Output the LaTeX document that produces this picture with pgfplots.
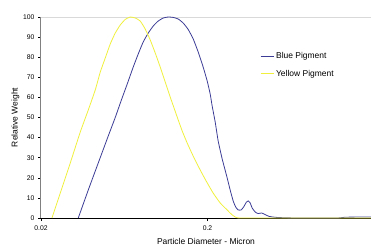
\documentclass[border=0pt]{standalone}
\usepackage{pgfplots}
\pgfplotsset{compat=1.18}
\usepackage{fontspec}
\setmainfont{Liberation Sans}
\usetikzlibrary{calc}
\definecolor{bluep}{RGB}{60,60,150}
\definecolor{yellowp}{RGB}{240,240,60}
\begin{document}
\begin{tikzpicture}[x=1bp,y=1bp]
\begin{axis}[
  name=ax,
  scale only axis,
  width=330bp, height=201bp,
  xmode=log,
  xmin=0.02, xmax=1.92,
  ymin=0, ymax=100,
  axis x line=bottom, axis y line=left,
  x axis line style={-, black, line width=0.8pt},
  y axis line style={-, gray, line width=1pt},
  xtick={0.02,0.2,2}, xticklabels={0.02,0.2,2},
  xminorticks=false,
  ytick={0,10,...,100},
  tick align=outside,
  major tick length=3bp,
  tick style={black, line width=0.5pt},
  ticklabel style={font=\fontsize{6.8}{7}\selectfont},
  /pgf/number format/assume math mode=true,
  xticklabel style={yshift=-1bp},
  xlabel={Particle Diameter - Micron},
  ylabel={Relative Weight},
  label style={font=\fontsize{8.5}{9}\selectfont},
  xlabel style={yshift=-1bp},
  ylabel style={yshift=-3bp},
  legend style={draw=none, fill=none, at={(rel axis cs:0.664,0.835)}, anchor=north west,
    font=\fontsize{8.5}{9}\selectfont, row sep=6bp, inner sep=0pt},
  legend cell align=left,
  legend image code/.code={\draw[#1] (0bp,0bp) -- (13bp,0bp);},
  clip=false,
]
\draw[gray!30, line width=0.8pt] (rel axis cs:0,1) -- (rel axis cs:1,1);
\addplot[bluep, line width=0.8pt, smooth, tension=0.3] coordinates {
(0.03349,0) (0.03845,13.9) (0.04416,27.4) (0.05070,40.8) (0.05584,50.0) (0.06068,58.5)
(0.06593,66.7) (0.07162,75.1) (0.07675,81.6) (0.08224,87.6) (0.08813,92.0) (0.09443,95.5)
(0.10119,98.0) (0.10843,99.5) (0.11618,100) (0.12449,99.8) (0.13341,99.0) (0.14295,97.0)
(0.15317,93.8) (0.16418,89.1) (0.17589,82.6) (0.18846,75.1) (0.19917,68.2) (0.20762,61.7)
(0.21342,55.7) (0.22245,47.8) (0.23191,38.3) (0.24508,29.4) (0.26082,20.9) (0.27376,13.9)
(0.28536,8.5) (0.29534,5.5) (0.30574,4.0) (0.31868,4.0) (0.32988,5.5) (0.34148,7.7)
(0.35106,8.5) (0.36090,7.5) (0.37100,5.0) (0.38668,3.0) (0.40308,2.2) (0.42302,2.5)
(0.44400,1.7) (0.46926,0.8) (0.50978,0.35) (0.5854,0.1) (0.7202,0) (1.2,0) (1.35,0.4) (1.92,0.5)
};
\addlegendentry{Blue Pigment}
\addplot[yellowp, line width=0.8pt, smooth, tension=0.3] coordinates {
(0.02328,0) (0.02611,12.4) (0.02999,27.4) (0.03444,42.8) (0.03845,53.7) (0.04236,63.7)
(0.04540,72.6) (0.04864,79.6) (0.05213,86.6) (0.05584,92.0) (0.05984,96.0) (0.06413,98.8)
(0.06871,100) (0.07363,99.5) (0.07890,98.0) (0.08454,94.0) (0.09060,88.6) (0.09708,82.1)
(0.10402,75.1) (0.11146,67.7) (0.11944,60.2) (0.12623,54.5) (0.13341,48.8) (0.14099,43.3)
(0.15106,37.3) (0.16418,30.8) (0.18081,23.9) (0.19644,18.4) (0.21638,12.4) (0.23840,7.5)
(0.26262,4.0) (0.27756,2.0) (0.29330,0.5) (0.31430,0) (0.6,0) (1.0,0) (1.92,0)
};
\addlegendentry{Yellow Pigment}
\end{axis}
\pgfresetboundingbox
\useasboundingbox ($(ax.south west)+(-41bp,-30bp)$) rectangle ($(ax.north east)+(0bp,17bp)$);
\end{tikzpicture}
\end{document}
